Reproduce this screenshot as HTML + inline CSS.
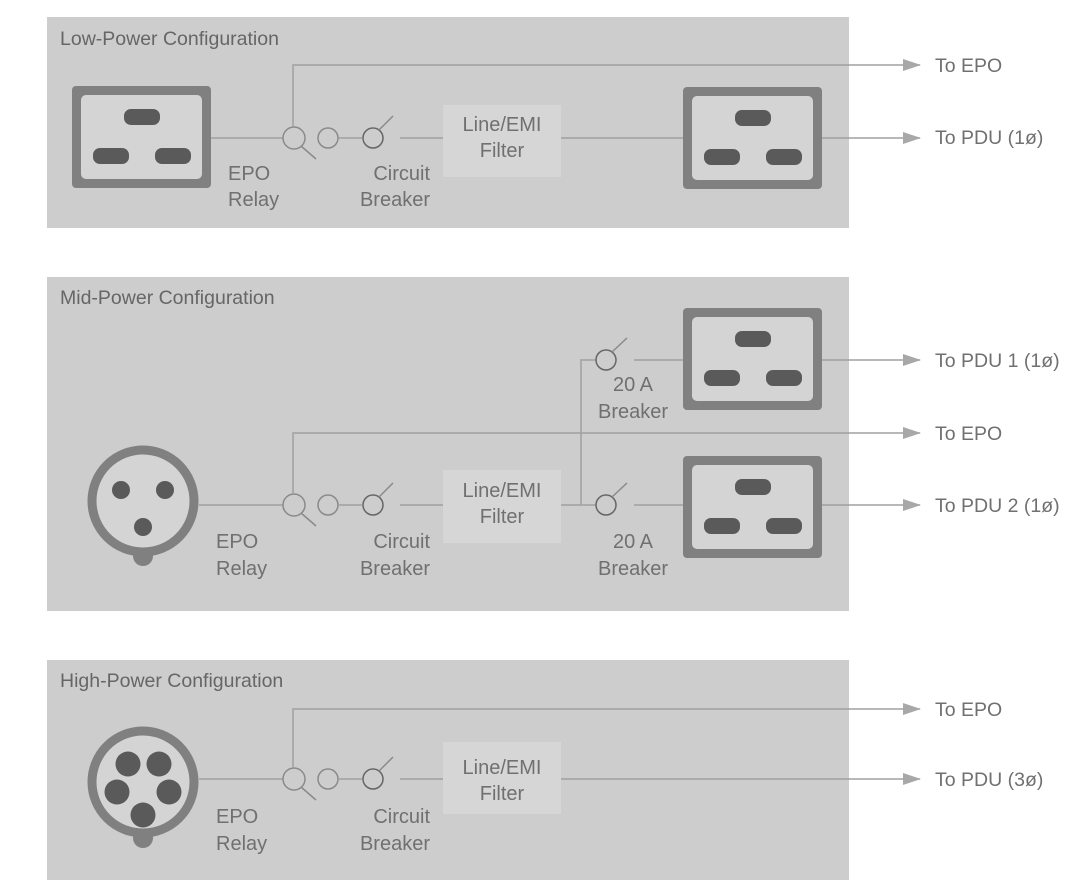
<!DOCTYPE html>
<html><head><meta charset="utf-8"><style>
html,body{margin:0;padding:0;background:#fff;}
svg{display:block;font-family:"Liberation Sans",sans-serif;}
text{fill:#707070;font-size:20px;}
.t{font-size:19.5px;fill:#666;}
.r{font-size:19.5px;}
</style></head><body>
<svg width="1080" height="887" viewBox="0 0 1080 887">
<defs>
<marker id="ar" markerWidth="18" markerHeight="12" refX="17" refY="6" orient="auto" markerUnits="userSpaceOnUse">
<path d="M0,0 L18,6 L0,12 Z" fill="#a8a8a8"/></marker>
<g id="rec">
<rect x="0" y="0" width="139" height="102" rx="4" fill="#808080"/>
<rect x="9" y="9" width="121" height="84" rx="5" fill="#d4d4d4"/>
<rect x="52" y="23" width="36" height="16" rx="7" fill="#5a5a5a"/>
<rect x="21" y="62" width="36" height="16" rx="7" fill="#5a5a5a"/>
<rect x="83" y="62" width="36" height="16" rx="7" fill="#5a5a5a"/>
</g>
<g id="chain" fill="none" stroke-width="1.5">
<circle cx="294" cy="0" r="11" stroke="#8a8a8a"/>
<line x1="301" y1="8" x2="316" y2="21" stroke="#8a8a8a"/>
<circle cx="328" cy="0" r="10" stroke="#8a8a8a"/>
<line x1="338" y1="0" x2="362" y2="0" stroke="#a0a0a0"/>
<circle cx="373" cy="0" r="10" stroke="#666"/>
<line x1="379" y1="-8" x2="393" y2="-22" stroke="#8a8a8a"/>
<line x1="400" y1="0" x2="443" y2="0" stroke="#a0a0a0"/>
</g>
</defs>

<!-- Panel 1 -->
<rect x="47" y="17" width="802" height="211" fill="#cdcdcd"/>
<text class="t" x="60" y="45">Low-Power Configuration</text>
<use href="#rec" x="72" y="86"/>
<line x1="211" y1="138" x2="283" y2="138" stroke="#a0a0a0" stroke-width="1.5"/>
<use href="#chain" x="0" y="138"/>
<polyline points="293,127 293,65 920,65" fill="none" stroke="#a0a0a0" stroke-width="1.5" marker-end="url(#ar)"/>
<rect x="443" y="105" width="118" height="72" fill="#d6d6d6"/>
<text x="502" y="131" text-anchor="middle">Line/EMI</text>
<text x="502" y="157" text-anchor="middle">Filter</text>
<line x1="561" y1="138" x2="683" y2="138" stroke="#a0a0a0" stroke-width="1.5"/>
<use href="#rec" x="683" y="87"/>
<line x1="822" y1="138" x2="920" y2="138" stroke="#a0a0a0" stroke-width="1.5" marker-end="url(#ar)"/>
<text x="228" y="180">EPO</text><text x="228" y="206">Relay</text>
<text x="430" y="180" text-anchor="end">Circuit</text><text x="430" y="206" text-anchor="end">Breaker</text>
<text class="r" x="935" y="72">To EPO</text>
<text class="r" x="935" y="144">To PDU (1ø)</text>

<!-- Panel 2 -->
<rect x="47" y="277" width="802" height="334" fill="#cdcdcd"/>
<text class="t" x="60" y="304">Mid-Power Configuration</text>
<circle cx="143" cy="556" r="10" fill="#808080"/>
<circle cx="143" cy="501" r="51" fill="#d4d4d4" stroke="#808080" stroke-width="9"/>
<circle cx="121" cy="490" r="9" fill="#5a5a5a"/>
<circle cx="165" cy="490" r="9" fill="#5a5a5a"/>
<circle cx="143" cy="527" r="9" fill="#5a5a5a"/>
<line x1="199" y1="505" x2="283" y2="505" stroke="#a0a0a0" stroke-width="1.5"/>
<use href="#chain" x="0" y="505"/>
<polyline points="293,494 293,433 920,433" fill="none" stroke="#a0a0a0" stroke-width="1.5" marker-end="url(#ar)"/>
<rect x="443" y="470" width="118" height="73" fill="#d6d6d6"/>
<text x="502" y="497" text-anchor="middle">Line/EMI</text>
<text x="502" y="523" text-anchor="middle">Filter</text>
<polyline points="561,505 596,505" fill="none" stroke="#a0a0a0" stroke-width="1.5"/>
<polyline points="596,360 581,360 581,505" fill="none" stroke="#a0a0a0" stroke-width="1.5"/>
<g fill="none" stroke-width="1.5">
<circle cx="606" cy="360" r="10" stroke="#666"/>
<line x1="612" y1="352" x2="627" y2="338" stroke="#8a8a8a"/>
<line x1="634" y1="360" x2="683" y2="360" stroke="#a0a0a0"/>
<circle cx="606" cy="505" r="10" stroke="#666"/>
<line x1="612" y1="497" x2="627" y2="483" stroke="#8a8a8a"/>
<line x1="634" y1="505" x2="683" y2="505" stroke="#a0a0a0"/>
</g>
<use href="#rec" x="683" y="308"/>
<use href="#rec" x="683" y="456"/>
<line x1="822" y1="360" x2="920" y2="360" stroke="#a0a0a0" stroke-width="1.5" marker-end="url(#ar)"/>
<line x1="822" y1="505" x2="920" y2="505" stroke="#a0a0a0" stroke-width="1.5" marker-end="url(#ar)"/>
<text x="633" y="391" text-anchor="middle">20 A</text><text x="633" y="418" text-anchor="middle">Breaker</text>
<text x="633" y="548" text-anchor="middle">20 A</text><text x="633" y="575" text-anchor="middle">Breaker</text>
<text x="216" y="548">EPO</text><text x="216" y="575">Relay</text>
<text x="430" y="548" text-anchor="end">Circuit</text><text x="430" y="575" text-anchor="end">Breaker</text>
<text class="r" x="935" y="367">To PDU 1 (1ø)</text>
<text class="r" x="935" y="440">To EPO</text>
<text class="r" x="935" y="512">To PDU 2 (1ø)</text>

<!-- Panel 3 -->
<rect x="47" y="660" width="802" height="220" fill="#cdcdcd"/>
<text class="t" x="60" y="687">High-Power Configuration</text>
<circle cx="143" cy="838" r="10" fill="#808080"/>
<circle cx="143" cy="782" r="51" fill="#d4d4d4" stroke="#808080" stroke-width="9"/>
<circle cx="128" cy="764" r="12.5" fill="#5a5a5a"/>
<circle cx="159" cy="764" r="12.5" fill="#5a5a5a"/>
<circle cx="117" cy="792" r="12.5" fill="#5a5a5a"/>
<circle cx="169" cy="792" r="12.5" fill="#5a5a5a"/>
<circle cx="143" cy="815" r="12.5" fill="#5a5a5a"/>
<line x1="199" y1="779" x2="283" y2="779" stroke="#a0a0a0" stroke-width="1.5"/>
<use href="#chain" x="0" y="779"/>
<polyline points="293,768 293,709 920,709" fill="none" stroke="#a0a0a0" stroke-width="1.5" marker-end="url(#ar)"/>
<rect x="443" y="742" width="118" height="72" fill="#d6d6d6"/>
<text x="502" y="774" text-anchor="middle">Line/EMI</text>
<text x="502" y="800" text-anchor="middle">Filter</text>
<line x1="561" y1="779" x2="920" y2="779" stroke="#a0a0a0" stroke-width="1.5" marker-end="url(#ar)"/>
<text x="216" y="823">EPO</text><text x="216" y="850">Relay</text>
<text x="430" y="823" text-anchor="end">Circuit</text><text x="430" y="850" text-anchor="end">Breaker</text>
<text class="r" x="935" y="716">To EPO</text>
<text class="r" x="935" y="786">To PDU (3ø)</text>
</svg>
</body></html>
